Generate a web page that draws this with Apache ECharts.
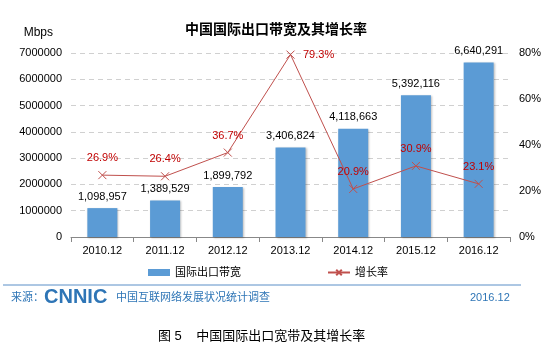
<!DOCTYPE html>
<html>
<head>
<meta charset="utf-8">
<script src="https://cdn.jsdelivr.net/npm/echarts@6/dist/echarts.min.js"></script>
<style>
html,body{margin:0;padding:0;background:#fff;}
#chart{width:555px;height:351px;}
</style>
</head>
<body>
<div id="chart"></div>
<script>
//年份
var years = ['2010.12', '2011.12', '2012.12', '2013.12', '2014.12', '2015.12', '2016.12'];
//国际出口带宽 Mbps
var bandwidth = [1098957, 1389529, 1899792, 3406824, 4118663, 5392116, 6640291];
//增长率 %
var growth = [26.9, 26.4, 36.7, 79.3, 20.9, 30.9, 23.1];

var font = 'Arial, "Liberation Sans", "Noto Sans CJK SC", sans-serif';
var blue = '#2e75b6';

function fmt(n) {
	return String(n).replace(/\B(?=(\d{3})+(?!\d))/g, ',');
}

var option = {
	backgroundColor: '#fff',
	textStyle: { fontFamily: font },
	title: {
		text: '中国国际出口带宽及其增长率',
		left: 180,
		top: 18,
		textStyle: { fontSize: 14, fontWeight: 'bold', color: '#000', fontFamily: font }
	},
	grid: { left: 71, right: 45, top: 53, bottom: 114 },
	legend: {
		left: 143,
		top: 262,
		itemGap: 86,
		itemWidth: 22,
		itemHeight: 7,
		textStyle: { fontSize: 11, color: '#000' },
		data: [{ name: '国际出口带宽', icon: 'rect' }, { name: '增长率' }]
	},
	xAxis: {
		type: 'category',
		data: years,
		axisLine: { lineStyle: { color: '#888' } },
		axisTick: { show: true, lineStyle: { color: '#888' } },
		axisLabel: { color: '#000', fontSize: 11, margin: 8 }
	},
	yAxis: [{
		type: 'value',
		name: 'Mbps',
		nameGap: 14,
		nameTextStyle: { color: '#000', fontSize: 12, align: 'right', padding: [0, 18, 0, 0] },
		min: 0,
		max: 7000000,
		interval: 1000000,
		axisLine: { show: false },
		axisTick: { show: false },
		axisLabel: { color: '#000', fontSize: 11, margin: 9, formatter: function(v) { return String(v); } },
		splitLine: { lineStyle: { color: '#d0d0d0', type: [5, 4] } }
	}, {
		type: 'value',
		min: 0,
		max: 80,
		interval: 20,
		axisLine: { show: false },
		axisTick: { show: false },
		axisLabel: { color: '#000', fontSize: 11, margin: 9, formatter: '{value}%' },
		splitLine: { show: false }
	}],
	series: [{
		name: '国际出口带宽',
		type: 'bar',
		data: bandwidth,
		barWidth: 30,
		itemStyle: {
			color: '#5b9bd5',
			shadowColor: 'rgba(0,0,0,0.25)',
			shadowBlur: 2,
			shadowOffsetX: 1,
			shadowOffsetY: 1
		},
		label: {
			show: true,
			position: 'top',
			distance: 6,
			color: '#000',
			fontSize: 11,
			formatter: function(p) { return fmt(p.value); }
		}
	}, {
		name: '增长率',
		type: 'line',
		yAxisIndex: 1,
		data: growth.map(function(v, i) {
			if(i == 3) {
				return { value: v, label: { position: 'right', distance: 8 } };
			}
			return v;
		}),
		symbol: 'path://M0,0L10,10M10,0L0,10',
		symbolSize: 8,
		lineStyle: { color: '#c0504d', width: 1 },
		itemStyle: { color: '#c0504d', borderColor: '#c0504d', borderWidth: 1 },
		label: {
			show: true,
			position: 'top',
			distance: 7,
			color: '#c00000',
			fontSize: 11,
			formatter: '{c}%'
		},
		z: 5
	}],
	graphic: [{
		type: 'line',
		shape: { x1: 3, y1: 285, x2: 521, y2: 285 },
		style: { stroke: '#5b8fc7', lineWidth: 1 }
	}, {
		type: 'text',
		left: 11,
		top: 292,
		style: { text: '来源：', fill: blue, fontSize: 11, fontFamily: font }
	}, {
		type: 'text',
		left: 44,
		top: 287,
		style: { text: 'CNNIC', fill: blue, fontSize: 20, fontWeight: 'bold', fontFamily: font }
	}, {
		type: 'text',
		left: 116,
		top: 292,
		style: { text: '中国互联网络发展状况统计调查', fill: blue, fontSize: 11, fontFamily: font }
	}, {
		type: 'text',
		left: 470,
		top: 292,
		style: { text: '2016.12', fill: blue, fontSize: 11, fontFamily: font }
	}, {
		type: 'text',
		left: 158,
		top: 330,
		style: { text: '图 5    中国国际出口宽带及其增长率', fill: '#000', fontSize: 13, fontFamily: font }
	}]
};

var myChart = echarts.init(document.getElementById('chart'));
myChart.setOption(option);
</script>
</body>
</html>
